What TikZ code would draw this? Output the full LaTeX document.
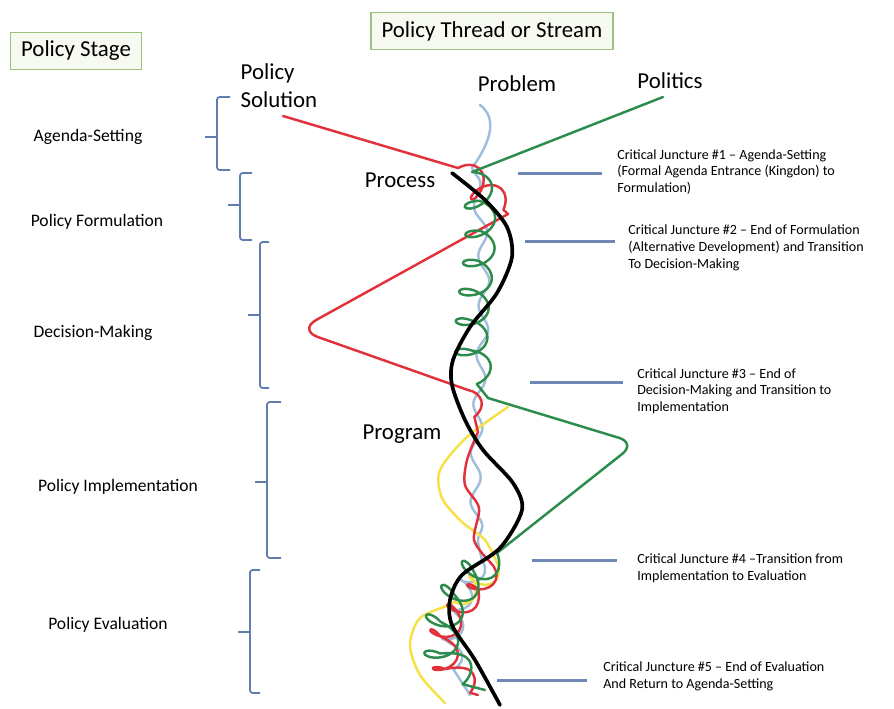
\documentclass[tikz,border=0pt]{standalone}
\usepackage{fontspec}
\setmainfont{Carlito}
\usetikzlibrary{decorations.pathmorphing}

\definecolor{boxgreen}{RGB}{155,195,125}
\definecolor{boxfill}{RGB}{246,250,240}
\definecolor{brkblue}{RGB}{95,125,175}
\definecolor{cjblue}{RGB}{110,135,180}
\definecolor{solred}{RGB}{225,50,60}
\definecolor{polgreen}{RGB}{45,140,75}
\definecolor{probblue}{RGB}{160,190,220}
\definecolor{progyellow}{RGB}{245,225,70}

\begin{document}
\begin{tikzpicture}
      [x=0.02cm,y=-0.02cm
      ,title/.style={draw=boxgreen,fill=boxfill,line width=0.9pt,inner xsep=6pt,minimum height=21pt,font=\fontsize{13}{15}\selectfont}
      ,stream/.style={font=\fontsize{13}{16}\selectfont,align=left}
      ,stage/.style={font=\fontsize{10}{12}\selectfont}
      ,crit/.style={anchor=west,align=left,inner sep=0,font=\fontsize{8}{9.5}\selectfont}
      ,brk/.style={draw=brkblue,line width=1pt,rounded corners=1.5pt}
      ,cjline/.style={draw=cjblue,line width=1.7pt}
      ,thread/.style={line width=1.4pt,line cap=round,line join=round}
      ,coils/.style={decoration={coil,amplitude=#1,segment length=17pt,aspect=0.6}}
      ,waves/.style={decoration={snake,amplitude=#1,segment length=28pt}}]
        \useasboundingbox (0,0) rectangle (894,708);
        % headings
        \node[title] (stagebox) at (76,51) {Policy Stage};
        \node[title] (threadbox) at (492,31) {Policy Thread or Stream};
        \node[stream] (solution) at (279,86) {Policy\\Solution};
        \node[stream] (problem) at (517,84) {Problem};
        \node[stream] (politics) at (670,81) {Politics};
        \node[stream] (process) at (400,180) {Process};
        \node[stream] (program) at (402,434) {Program};
        % stages
        \node[stage] (agenda) at (88,137) {Agenda-Setting};
        \node[stage] (formul) at (97,222) {Policy Formulation};
        \node[stage] (decision) at (93,333) {Decision-Making};
        \node[stage] (implem) at (118,487) {Policy Implementation};
        \node[stage] (evalu) at (108,625) {Policy Evaluation};
        \foreach \x/\t/\m/\b/\s in {217/97/137/170/13,240/173/205/240/12,260/242/315/388/9,267/402/482/558/14,250/570/632/693/10}{
          \draw[brk] (\x+\s,\t) -- (\x,\t) -- (\x,\b) -- (\x+\s,\b);
          \draw[brk] (\x-12,\m) -- (\x,\m);
        }
        % critical junctures
        \foreach \n/\a/\b/\y in {1/518/602/173,2/525/615/241,3/530/623/382,4/532/617/560,5/497/587/680}{
          \coordinate (cjl\n) at (\a,\y);
          \coordinate (cjr\n) at (\b,\y);
          \draw[cjline] (cjl\n) -- (cjr\n);
        }
        \node[crit] (cj1) at (617,172) {Critical Juncture \#1 – Agenda-Setting\\(Formal Agenda Entrance (Kingdon) to\\Formulation)};
        \node[crit] (cj2) at (628,248) {Critical Juncture \#2 – End of Formulation\\(Alternative Development) and Transition\\To Decision-Making};
        \node[crit] (cj3) at (637,391) {Critical Juncture \#3 – End of\\Decision-Making and Transition to\\Implementation};
        \node[crit] (cj4) at (637,568) {Critical Juncture \#4 –Transition from\\Implementation to Evaluation};
        \node[crit] (cj5) at (603,676) {Critical Juncture \#5 – End of Evaluation\\And Return to Agenda-Setting};
        % threads
        \coordinate (solstart) at (283,116);
        \coordinate (polstart) at (663,97);
        \coordinate (probstart) at (480,105);
        \draw[thread,probblue] (probstart) .. controls (497,118) and (492,140) .. (472,168)
          decorate[waves=3pt]{(472,168) .. controls (500,300) and (455,450) .. (482,560)}
          decorate[coils=5pt]{(482,560) .. controls (455,610) and (440,650) .. (470,695)};
        \draw[thread,progyellow] plot[smooth] coordinates {(508,407) (467,437) (440,470) (442,498) (462,522) (485,540) (498,565)}
          decorate[coils=6pt]{(498,565) -- (450,605)}
          -- plot[smooth] coordinates {(450,605) (420,618) (410,645) (420,675) (445,703)};
        \draw[thread,solred] (solstart) -- (458,168)
          decorate[coils=8pt]{(458,168) -- (508,214)}
          [rounded corners=12pt] -- (298,330) -- (468,390) [sharp corners]
          decorate[coils=6pt]{(468,390) -- (478,432)}
          -- plot[smooth] coordinates {(478,432) (467,460) (465,485) (479,508) (474,540) (490,562)}
          decorate[coils=7pt]{(490,562) .. controls (470,610) and (410,630) .. (478,695)};
        \draw[thread,polgreen] (polstart) -- (472,172)
          decorate[coils=9pt]{(472,172) .. controls (495,260) and (450,330) .. (488,398)}
          [rounded corners=10pt] -- (636,443) -- (497,553) [sharp corners]
          decorate[coils=9pt]{(497,553) .. controls (440,600) and (420,650) .. (485,690)};
        \draw[thread,black,line width=2.1pt] plot[smooth] coordinates {(452,173) (485,200) (507,227) (512,257) (497,293) (470,327) (453,360) (452,385) (465,420) (483,450) (513,483) (522,510) (500,548) (462,575) (450,600) (452,625) (475,660) (500,705)};
      \end{tikzpicture}
\end{document}
